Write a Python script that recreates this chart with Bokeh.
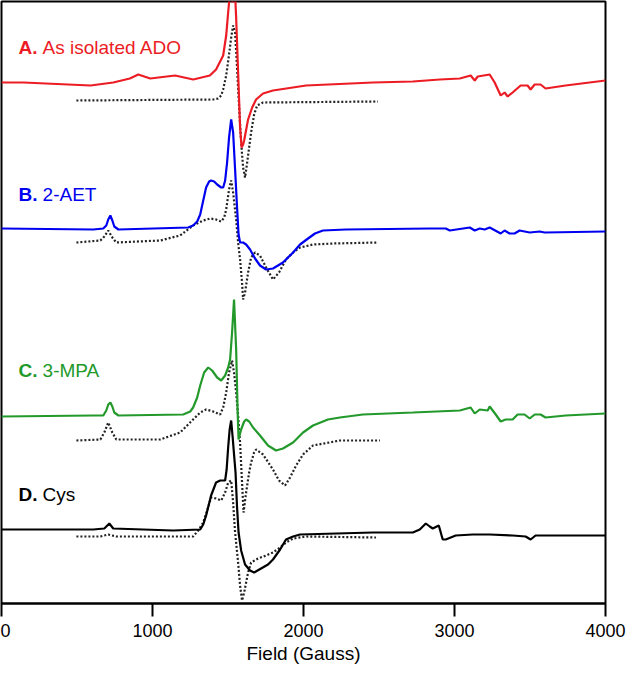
from bokeh.plotting import figure
from bokeh.models import Label, Range1d, FixedTicker
from bokeh.embed import file_html
from bokeh.resources import INLINE

# ---------------- data (field in Gauss, intensity in arbitrary units) ----------------
tick_values = [0, 1000, 2000, 3000, 4000]

# A. As isolated ADO (experimental)
a_field = [0, 145, 590, 740, 850, 906, 985, 1150, 1270, 1380, 1421, 1468, 1488, 1501, 1507, 1514, 1524, 1530, 1537, 1547,
           1554, 1567, 1580, 1590, 1600, 1607, 1633, 1660, 1686, 1732, 1798, 2017, 2460, 2724, 2903, 3035, 3107, 3134, 3154, 3233,
           3266, 3306, 3332, 3352, 3385, 3438, 3484, 3504, 3531, 3570, 3603, 3736, 4000]
a_int = [0, 0, -3, 0, 4, 8, 4, 7, 3, 7, 13, 27, 47, 70, 80, 88, 92, 80, 92, 88,
         65, 10, -45, -65, -62, -58, -37, -25, -17, -11, -8, -3, 0, 1, 3, 4, 7, 2, 6, 8,
         0, -13, -10, -14, -10, -3, -3, -7, -2, -2, -6, -3, 2]
# A. simulation
a_sim_field = [496, 1402, 1435, 1455, 1468, 1488, 1507, 1521, 1534, 1547, 1560, 1574, 1587, 1600, 1613, 1627, 1640, 1653, 1673, 1693, 1732, 2493]
a_sim_int = [0, 1, 2, 5, 11, 25, 46, 63, 75, 68, 33, -7, -42, -67, -77, -62, -47, -32, -14, -5, -2, -1]

# B. 2-AET
b_field = [0, 608, 674, 694, 707, 721, 734, 747, 774, 1236, 1269, 1296, 1316, 1336, 1355, 1375, 1388, 1408, 1428, 1455,
           1468, 1481, 1494, 1507, 1521, 1534, 1547, 1560, 1570, 1580, 1600, 1620, 1646, 1679, 1712, 1752, 1798, 1864, 1931, 1977,
           2030, 2076, 2129, 2281, 2836, 2942, 2969, 3101, 3134, 3167, 3200, 3233, 3306, 3332, 3365, 3398, 3431, 3498, 3564, 3597, 4000]
b_int = [1, 0, 1, 4, 10, 14, 9, 3, 0, 2, 4, 8, 15, 29, 42, 48, 49, 48, 45, 42,
         42, 49, 67, 92, 110, 97, 60, 22, -5, -13, -13, -15, -20, -29, -36, -40, -39, -33, -23, -15,
         -9, -4, -1, 0, 1, 1, -1, 2, -1, 1, 0, 2, -4, -1, -4, -4, -1, -3, -2, -3, -2]
b_sim_field = [496, 655, 681, 707, 734, 760, 1051, 1183, 1269, 1336, 1382, 1421, 1455, 1475, 1488, 1507, 1521, 1534, 1554, 1567,
               1580, 1593, 1600, 1613, 1633, 1653, 1679, 1712, 1752, 1798, 1838, 1884, 1931, 1977, 2063, 2195, 2493]
b_sim_int = [0, 2, 6, 12, 5, 0, 2, 7, 17, 22, 24, 23, 21, 25, 33, 53, 62, 50, 23, 0,
             -17, -40, -57, -50, -30, -15, -10, -13, -25, -37, -30, -17, -10, -5, -2, -1, 0]

# C. 3-MPA
c_field = [0, 608, 674, 694, 707, 721, 734, 747, 774, 1203, 1250, 1269, 1296, 1316, 1342, 1369, 1395, 1428, 1455, 1481,
           1501, 1514, 1527, 1540, 1554, 1564, 1570, 1587, 1607, 1620, 1640, 1666, 1712, 1765, 1818, 1864, 1931, 1997, 2063, 2162,
           2241, 2393, 2724, 3035, 3107, 3134, 3167, 3220, 3233, 3273, 3306, 3339, 3385, 3418, 3464, 3498, 3531, 3570, 3603, 3736, 4000]
c_int = [-2, -1, -1, 4, 10, 12, 8, 2, -1, 0, 3, 7, 17, 29, 42, 47, 44, 37, 34, 39,
         47, 55, 82, 115, 65, 2, -25, -15, -7, -5, -7, -13, -21, -31, -36, -34, -28, -18, -11, -5,
         -3, 0, 2, 4, 7, 1, 5, 4, 8, 0, -7, -5, -5, 0, 0, -4, 0, 0, -3, -1, 1]
c_sim_field = [496, 655, 681, 707, 734, 760, 1051, 1183, 1269, 1316, 1355, 1402, 1448, 1468, 1488, 1507, 1527, 1540, 1554, 1567,
               1580, 1593, 1603, 1620, 1640, 1653, 1673, 1686, 1732, 1798, 1838, 1878, 1911, 1951, 1997, 2063, 2241, 2506]
c_sim_int = [-1, 0, 7, 17, 7, 0, 0, 7, 20, 27, 30, 28, 25, 32, 47, 67, 79, 67, 47, 24,
             -3, -43, -73, -53, -33, -23, -13, -10, -15, -30, -41, -46, -38, -26, -15, -6, -1, -1]

# D. Cys
d_field = [0, 608, 681, 714, 740, 1137, 1316, 1336, 1355, 1388, 1421, 1448, 1481, 1491, 1501, 1511, 1521, 1531, 1540, 1550,
           1560, 1570, 1587, 1613, 1646, 1673, 1719, 1765, 1798, 1845, 1884, 1931, 1977, 2460, 2724, 2770, 2810, 2836, 2856, 2896,
           2922, 2942, 3008, 3121, 3233, 3385, 3471, 3504, 3537, 4000]
d_int = [3, 3, 4, 9, 4, 2, 3, 8, 17, 37, 50, 52, 52, 63, 85, 103, 112, 95, 78, 60,
         25, 0, -18, -32, -38, -40, -36, -32, -27, -17, -7, -4, -2, 0, 0, 3, 9, 6, 4, 7,
         -7, -7, -3, -2, -2, -3, -4, -7, -3, -3]
d_sim_field = [496, 655, 707, 760, 1269, 1303, 1336, 1362, 1388, 1421, 1455, 1481, 1501, 1521, 1534, 1547, 1567, 1580, 1593, 1607,
               1633, 1653, 1699, 1752, 1798, 1845, 1884, 1931, 2017, 2480]
d_sim_int = [1, 1, 3, 1, 1, 7, 15, 27, 40, 39, 37, 45, 55, 57, 35, 5, -25, -48, -63, -55,
             -35, -25, -21, -18, -15, -10, -5, -1, 1, 0]

panel_letters = ["A.", "B.", "C.", "D."]
panel_names = ["As isolated ADO", "2-AET", "3-MPA", "Cys"]
trace_offsets = [521, 374, 189, 71]
sim_offsets = [503, 361, 164, 66]
colors = ["#ec1c24", "#0000f0", "#22992a", "#000000"]

exp_data = [(a_field, a_int), (b_field, b_int), (c_field, c_int), (d_field, d_int)]
sim_data = [(a_sim_field, a_sim_int), (b_sim_field, b_sim_int), (c_sim_field, c_sim_int), (d_sim_field, d_sim_int)]

FONT = "Liberation Sans"

p = figure(width=626, height=670, output_backend="svg", toolbar_location=None,
           x_range=Range1d(0, 4000), y_range=Range1d(0, 602),
           min_border_left=1, min_border_right=21, min_border_top=1, min_border_bottom=67)

p.grid.visible = False
p.yaxis.visible = False
p.outline_line_color = "black"
p.outline_line_width = 2
p.outline_line_alpha = 1

ax = p.xaxis[0]
ax.ticker = FixedTicker(ticks=tick_values)
ax.axis_line_width = 2
ax.axis_line_color = "black"
ax.major_tick_line_width = 2
ax.major_tick_line_color = "black"
ax.major_tick_out = 13
ax.major_tick_in = 0
ax.minor_tick_line_color = None
ax.major_label_text_font = FONT
ax.major_label_text_font_size = "18px"
ax.major_label_text_color = "black"
ax.major_label_standoff = 7
ax.axis_label = "Field (Gauss)"
ax.axis_label_text_font = FONT
ax.axis_label_text_font_size = "19px"
ax.axis_label_text_font_style = "normal"
ax.axis_label_text_color = "black"
ax.axis_label_standoff = 3

# simulations (dotted)
for (fx, iy), off in zip(sim_data, sim_offsets):
    p.line(fx, [off + v for v in iy], line_color="#222222", line_width=2.2, line_dash="2 2")

# experimental traces
for (fx, iy), off, col in zip(exp_data, trace_offsets, colors):
    p.line(fx, [off + v for v in iy], line_color=col, line_width=2.2)

label_y = [556, 409, 233, 109]
for let, name, ly, col in zip(panel_letters, panel_names, label_y, colors):
    p.add_layout(Label(x=113, y=ly, text=let, text_font=FONT, text_font_size="19px",
                       text_font_style="bold", text_color=col, text_baseline="alphabetic"))
    p.add_layout(Label(x=272, y=ly, text=name, text_font=FONT, text_font_size="19px",
                       text_color=col, text_baseline="alphabetic"))

open("out.html", "w").write(file_html(p, INLINE))
